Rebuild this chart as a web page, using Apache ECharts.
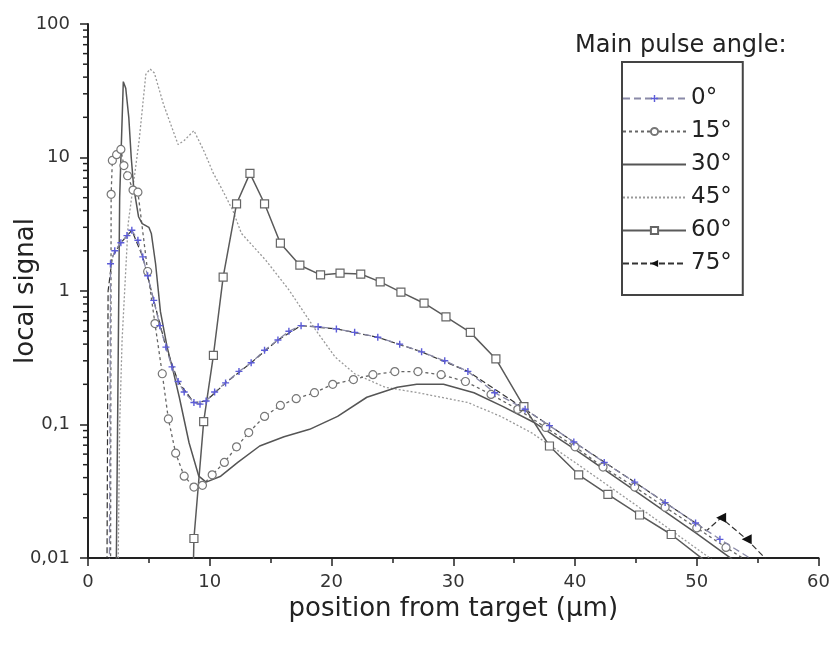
<!doctype html>
<html>
<head>
<meta charset="utf-8">
<title>local signal</title>
<script src="https://cdn.jsdelivr.net/npm/echarts@6/dist/echarts.min.js"></script>
<style>
	html, body { margin: 0; padding: 0; background: #fff; }
	#chart { width: 833px; height: 649px; }
</style>
</head>
<body>
<div id="chart"></div>
<script>
	var names = ['0°', '15°', '30°', '45°', '60°', '75°'];

	// 0 deg
	var x0 = [1.75, 1.85, 2.2, 2.7, 3.2, 3.6, 4.1, 4.5, 4.9, 5.4, 5.9, 6.4, 6.9, 7.4, 7.9, 8.7, 9.2, 9.7, 10.4, 11.3, 12.4, 13.4, 14.5, 15.6, 16.5, 17.5, 18.9, 20.4, 21.9, 23.8, 25.6, 27.4, 29.3, 31.2, 33.4, 35.9, 37.9, 39.9, 42.4, 44.9, 47.4, 49.9, 51.9, 54.5];
	var y0 = [0.005, 1.6, 2.0, 2.3, 2.6, 2.85, 2.4, 1.8, 1.3, 0.85, 0.55, 0.38, 0.27, 0.21, 0.175, 0.146, 0.142, 0.15, 0.175, 0.205, 0.25, 0.29, 0.36, 0.43, 0.5, 0.55, 0.54, 0.52, 0.49, 0.45, 0.40, 0.35, 0.30, 0.25, 0.173, 0.13, 0.098, 0.074, 0.052, 0.037, 0.026, 0.0183, 0.0138, 0.0098];

	// 15 deg
	var x15 = [1.85, 1.9, 2.0, 2.35, 2.7, 2.95, 3.25, 3.7, 4.1, 4.9, 5.5, 6.1, 6.6, 7.2, 7.9, 8.7, 9.4, 10.2, 11.2, 12.2, 13.2, 14.5, 15.8, 17.1, 18.6, 20.1, 21.8, 23.4, 25.2, 27.1, 29.0, 31.0, 33.1, 35.3, 37.6, 40.0, 42.3, 44.9, 47.4, 50.0, 52.4, 53.9];
	var y15 = [0.005, 5.3, 9.5, 10.5, 11.5, 8.7, 7.3, 5.7, 5.5, 1.4, 0.57, 0.24, 0.11, 0.061, 0.041, 0.034, 0.035, 0.042, 0.052, 0.068, 0.087, 0.115, 0.139, 0.156, 0.173, 0.2, 0.217, 0.236, 0.249, 0.249, 0.236, 0.21, 0.168, 0.13, 0.095, 0.068, 0.048, 0.034, 0.024, 0.0168, 0.012, 0.0098];

	// 30 deg
	var x30 = [2.3, 2.6, 2.9, 3.1, 3.35, 3.55, 3.75, 4.15, 4.45, 5.0, 5.2, 5.55, 5.95, 6.5, 7.0, 7.5, 8.3, 9.1, 9.7, 10.9, 12.3, 14.1, 16.1, 18.2, 20.5, 22.9, 25.4, 27.0, 29.2, 31.7, 34.1, 36.6, 40.0, 45.0, 50.0, 52.9];
	var y30 = [0.005, 5, 37, 33, 20, 10, 6, 3.6, 3.2, 3.0, 2.7, 1.6, 0.7, 0.38, 0.25, 0.16, 0.073, 0.041, 0.037, 0.041, 0.052, 0.069, 0.081, 0.092, 0.115, 0.16, 0.19, 0.2, 0.2, 0.173, 0.136, 0.104, 0.065, 0.0316, 0.0152, 0.0098];

	// 45 deg
	var x45 = [2.45, 2.6, 2.8, 3.3, 4.2, 4.75, 5.1, 5.45, 6.2, 7.4, 7.9, 8.7, 9.5, 10.3, 11.0, 11.9, 12.6, 14.6, 16.5, 18.7, 20.3, 21.9, 24.4, 27.1, 31.2, 33.9, 36.4, 40.0, 45.0, 51.2];
	var y45 = [0.005, 0.1, 0.43, 3.2, 13.4, 42, 46, 43, 25, 12.5, 13.4, 15.9, 11.3, 7.6, 5.8, 4.0, 2.7, 1.7, 1.02, 0.51, 0.32, 0.24, 0.19, 0.173, 0.146, 0.115, 0.087, 0.052, 0.0249, 0.0098];

	// 60 deg
	var x60 = [8.6, 8.7, 9.5, 10.3, 11.1, 12.2, 13.3, 14.5, 15.8, 17.4, 19.1, 20.7, 22.4, 24.0, 25.7, 27.6, 29.4, 31.4, 33.5, 35.8, 37.9, 40.3, 42.7, 45.3, 47.9, 50.5];
	var y60 = [0.005, 0.014, 0.105, 0.33, 1.27, 4.5, 7.6, 4.5, 2.28, 1.56, 1.32, 1.36, 1.34, 1.17, 0.98, 0.81, 0.64, 0.49, 0.31, 0.136, 0.069, 0.042, 0.030, 0.021, 0.015, 0.0098];

	// 75 deg
	var x75 = [1.55, 1.65, 2.0, 2.7, 3.6, 4.5, 5.4, 6.4, 7.4, 8.7, 9.7, 11.3, 13.4, 15.6, 17.5, 20.4, 23.8, 27.4, 31.2, 35.9, 39.9, 44.9, 49.9, 50.8, 52.0, 54.1, 55.7];
	var y75 = [0.005, 1.0, 1.8, 2.3, 2.85, 1.8, 0.85, 0.38, 0.21, 0.146, 0.15, 0.205, 0.29, 0.43, 0.55, 0.52, 0.45, 0.35, 0.25, 0.13, 0.074, 0.037, 0.0183, 0.016, 0.02, 0.0138, 0.0098];
	var marked75 = [52.0, 54.1];

	var yMinorTicks = [];
	[0.01, 0.1, 1, 10].forEach(function(d) {
		for (var k = 2; k <= 9; k++) yMinorTicks.push(+(k * d).toPrecision(3));
	});

	function pairs(xs, ys) {
		return xs.map(function(x, i) {
			return [x, ys[i]];
		});
	}

	var chart = echarts.init(document.getElementById('chart'));
	var font = 'DejaVu Sans';

	chart.setOption({
		animation: false,
		textStyle: { fontFamily: font },
		title: {
			text: 'Main pulse angle:',
			left: 570,
			top: 29,
			textStyle: { fontFamily: font, fontSize: 24, fontWeight: 'normal', color: '#222' }
		},
		legend: {
			data: [
				{ name: '0°' },
				{ name: '15°' },
				{ name: '30°', itemStyle: { opacity: 0 } },
				{ name: '45°', itemStyle: { opacity: 0 } },
				{ name: '60°' },
				{ name: '75°' }
			],
			orient: 'vertical',
			left: 622,
			top: 62,
			padding: [25, 11, 20, 0],
			itemGap: 10,
			itemWidth: 63,
			itemHeight: 9,
			borderColor: '#444',
			borderWidth: 2,
			textStyle: { fontFamily: font, fontSize: 23, color: '#222' }
		},
		grid: { left: 88, right: 14, top: 24, bottom: 91 },
		xAxis: {
			type: 'value',
			min: 0,
			max: 60,
			interval: 10,
			name: 'position from target (μm)',
			nameLocation: 'middle',
			nameGap: 38,
			nameMoveOverlap: false,
			nameTextStyle: { fontFamily: font, fontSize: 26, color: '#222' },
			axisLine: { lineStyle: { color: '#222', width: 2 } },
			axisTick: { length: 8, lineStyle: { color: '#222', width: 1.5 } },
			minorTick: { show: true, splitNumber: 2, length: 5, lineStyle: { color: '#222', width: 1.5 } },
			splitLine: { show: false },
			axisLabel: { fontFamily: font, fontSize: 18, color: '#333', margin: 15 }
		},
		yAxis: {
			type: 'log',
			logBase: 10,
			min: 0.01,
			max: 100,
			name: 'local signal',
			nameLocation: 'middle',
			nameGap: 49,
			nameMoveOverlap: false,
			nameTextStyle: { fontFamily: font, fontSize: 26, color: '#222' },
			axisLine: { show: true, lineStyle: { color: '#222', width: 2 } },
			axisTick: { length: 8, lineStyle: { color: '#222', width: 1.5 } },
			splitLine: { show: false },
			axisLabel: {
				fontFamily: font,
				fontSize: 18,
				color: '#333',
				margin: 18,
				formatter: function(v) {
					return String(parseFloat(v.toPrecision(6))).replace('.', ',');
				}
			}
		},
		series: [{
			name: '0°',
			type: 'line',
			z: 4,
			data: pairs(x0, y0),
			symbol: 'path://M4,0H6V4H10V6H6V10H4V6H0V4H4Z',
			symbolSize: 7,
			itemStyle: { color: '#5c5cd8' },
			lineStyle: { color: '#8a8aa8', width: 1.3, type: [7, 4] }
		}, {
			name: '15°',
			type: 'line',
			z: 3,
			data: pairs(x15, y15),
			symbol: 'circle',
			symbolSize: 8,
			itemStyle: { color: '#fff', borderColor: '#777', borderWidth: 1.2 },
			lineStyle: { color: '#666', width: 1.3, type: [3, 3] }
		}, {
			name: '30°',
			type: 'line',
			z: 3,
			data: pairs(x30, y30),
			symbol: 'none',
			itemStyle: { color: '#555' },
			lineStyle: { color: '#555', width: 1.5 }
		}, {
			name: '45°',
			type: 'line',
			z: 2,
			data: pairs(x45, y45),
			symbol: 'none',
			itemStyle: { color: '#999' },
			lineStyle: { color: '#999', width: 1.3, type: [2, 2] }
		}, {
			name: '60°',
			type: 'line',
			z: 3,
			data: pairs(x60, y60),
			symbol: 'rect',
			symbolSize: 8,
			itemStyle: { color: '#fff', borderColor: '#666', borderWidth: 1.2 },
			lineStyle: { color: '#5a5a5a', width: 1.5 }
		}, {
			name: '75°',
			type: 'line',
			z: 1,
			data: pairs(x75, y75).map(function(p) {
				return marked75.indexOf(p[0]) >= 0 ? { value: p } : { value: p, symbol: 'none' };
			}),
			symbol: 'path://M0,5L10,0L10,10Z',
			symbolSize: 10,
			itemStyle: { color: '#111' },
			lineStyle: { color: '#333', width: 1.2, type: [6, 3] }
		}, {
			type: 'custom',
			silent: true,
			clip: false,
			z: 5,
			data: yMinorTicks.map(function(v) { return [0, v]; }),
			renderItem: function(params, api) {
				var p = api.coord([0, api.value(1)]);
				return {
					type: 'line',
					shape: { x1: p[0] - 5, y1: p[1], x2: p[0], y2: p[1] },
					style: { stroke: '#222', lineWidth: 1.5 }
				};
			}
		}]
	});
</script>
</body>
</html>
